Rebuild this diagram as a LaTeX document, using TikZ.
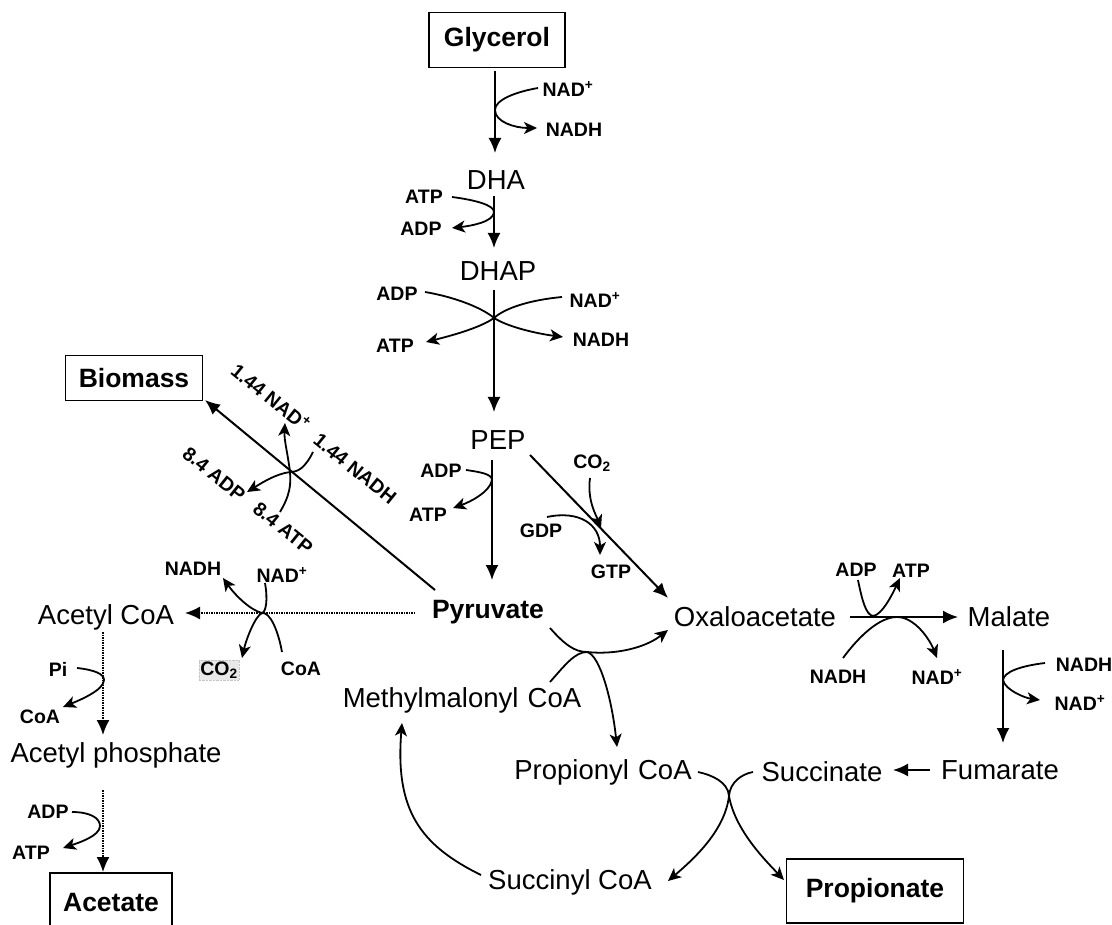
\documentclass[tikz,border=0pt]{standalone}
\usepackage{fontspec}
\setmainfont{Liberation Sans}
\usetikzlibrary{arrows.meta}
\tikzset{
  lbl/.style={font=\fontsize{27.5}{30}\selectfont, inner sep=0pt},
  blbl/.style={font=\bfseries\fontsize{26.5}{30}\selectfont, inner sep=0pt},
  boxed/.style={draw, line width=1.5pt, font=\bfseries\fontsize{26.5}{30}\selectfont, inner sep=0pt},
  sm/.style={font=\bfseries\fontsize{19.5}{21}\selectfont, inner sep=0pt},
  flow/.style={line width=2pt, -{Latex[length=15pt,width=13pt]}},
  dotflow/.style={line width=1.5pt, densely dotted, -{Latex[length=15pt,width=13pt]}},
  sidearrow/.style={line width=1.8pt, -{Stealth[length=13pt,width=12pt,inset=3.5pt]}},
  sideline/.style={line width=1.8pt},
}
\begin{document}
\begin{tikzpicture}[x=1pt,y=-1pt]
\clip (0,0) rectangle (1112,925);
\fill[white] (0,0) rectangle (1112,925);

% ---------- main nodes ----------
\node[boxed, minimum width=136, minimum height=55] (glycerol) at (497,40) {Glycerol};
\node[lbl] (dha) at (496,180) {DHA};
\node[lbl] (dhap) at (498,271) {DHAP};
\node[lbl] (pep) at (498,440) {PEP};
\node[blbl] (pyruvate) at (488,612) {Pyruvate};
\node[boxed, minimum width=137, minimum height=45] (biomass) at (134,378) {Biomass};
\node[lbl] (acetylcoa) at (106,617) {Acetyl CoA};
\node[lbl] (acetylp) at (116,755) {Acetyl phosphate};
\node[boxed, minimum width=122, minimum height=62] (acetate) at (111,904) {\raisebox{4pt}{Acetate}};
\node[lbl] (oxalo) at (755,617) {Oxaloacetate};
\node[lbl] (malate) at (1009,617) {Malate};
\node[lbl] (fumarate) at (1000,770) {Fumarate};
\node[lbl] (succinate) at (822,772) {Succinate};
\node[lbl] (propcoa) at (603,772) {Propionyl\,\,CoA};
\node[lbl] (methyl) at (462,700) {Methylmalonyl\,\,CoA};
\node[lbl] (succcoa) at (570,882) {Succinyl CoA};
\node[boxed, minimum width=177, minimum height=64] (propionate) at (875,891) {\raisebox{6pt}{Propionate}};

% ---------- cofactor labels ----------
\node[sm] (g_nad) at (568,89) {NAD\textsuperscript{+}};
\node[sm] (g_nadh) at (574,130) {NADH};
\node[sm] (d_atp) at (424,197) {ATP};
\node[sm] (d_adp) at (421,229) {ADP};
\node[sm] (p_adp) at (397,294) {ADP};
\node[sm] (p_atp) at (395,346) {ATP};
\node[sm] (p_nad) at (595,300) {NAD\textsuperscript{+}};
\node[sm] (p_nadh) at (601,340) {NADH};
\node[sm] (e_adp) at (441,471) {ADP};
\node[sm] (e_atp) at (428,515) {ATP};
\node[sm] (e_co2) at (592,463) {CO\textsubscript{2}};
\node[sm] (e_gdp) at (541,531) {GDP};
\node[sm] (e_gtp) at (611,572) {GTP};
\node[sm, rotate=-39] (b_nad) at (271,397) {1.44 NAD\textsuperscript{+}};
\node[sm, rotate=-39] (b_nadh) at (355,469) {1.44 NADH};
\node[sm, rotate=-39] (b_adp) at (214,474) {8.4 ADP};
\node[sm, rotate=-39] (b_atp) at (283,528) {8.4 ATP};
\node[sm] (a_nadh) at (193,569) {NADH};
\node[sm] (a_nad) at (282,575) {NAD\textsuperscript{+}};
\node[sm, fill=gray!18, draw=gray!45, densely dotted, inner sep=1.5pt] (a_co2) at (219,670) {CO\textsubscript{2}};
\node[sm] (a_coa) at (301,669) {CoA};
\node[sm] (q_pi) at (58,669) {Pi};
\node[sm] (q_coa) at (40,717) {CoA};
\node[sm] (r_adp) at (48,812) {ADP};
\node[sm] (r_atp) at (31,853) {ATP};
\node[sm] (m_adp) at (856,570) {ADP};
\node[sm] (m_atp) at (911,571) {ATP};
\node[sm] (m_nadh) at (838,677) {NADH};
\node[sm] (m_nad) at (937,677) {NAD\textsuperscript{+}};
\node[sm] (f_nadh) at (1084,665) {NADH};
\node[sm] (f_nad) at (1080,703) {NAD\textsuperscript{+}};

% ---------- junction coordinates ----------
\coordinate (j1) at (495,110);
\coordinate (j2) at (494,212);
\coordinate (j3) at (494,318);
\coordinate (j4) at (492,480);
\coordinate (jb) at (290,472);
\coordinate (ja) at (262,613);
\coordinate (jq) at (104,680);
\coordinate (jr) at (100,826);
\coordinate (jm1) at (873,616);
\coordinate (jm2) at (897,617);
\coordinate (jf) at (1003,680);
\coordinate (jt) at (587,652);
\coordinate (js) at (729,796);

% ---------- main flow arrows ----------
\draw[flow] (495,71) -- (495,153);
\draw[flow] (494,196) -- (494,248);
\draw[flow] (494,290) -- (494,412);
\draw[flow] (492,460) -- (492,580);
\draw[flow] (530,455) -- (668,598);
\draw[flow] (435,590) -- (205,400);
\draw[dotflow] (415,613) -- (185,613);
\draw[dotflow] (103,632) -- (103,735);
\draw[dotflow] (103,790) -- (103,872);
\draw[flow] (850,617) -- (958,617);
\draw[flow] (1003,650) -- (1003,743);
\draw[flow] (930,770) -- (893,770);

% ---------- cofactor curves ----------
\draw[sidearrow] (538,88) .. controls (515,92) and (495,100) .. (j1)
   .. controls (495,122) and (515,128) .. (537,128);
\draw[sidearrow] (452,197) .. controls (475,200) and (494,205) .. (j2)
   .. controls (494,222) and (470,226) .. (452,228);
\draw[sidearrow] (425,292) .. controls (460,298) and (485,310) .. (j3)
   .. controls (480,328) and (450,336) .. (426,342);
\draw[sidearrow] (562,297) .. controls (530,300) and (505,308) .. (j3)
   .. controls (510,328) and (540,334) .. (563,337);
\draw[sidearrow] (466,470) .. controls (480,472) and (492,474) .. (j4)
   .. controls (490,492) and (470,502) .. (453,508);
\draw[sidearrow] (590,478) .. controls (587,500) and (596,515) .. (601,528);
\draw[sidearrow] (547,517) .. controls (580,510) and (600,525) .. (600,555);
\draw[sidearrow] (313,452) .. controls (305,468) and (298,472) .. (jb)
   .. controls (275,474) and (260,484) .. (247,492);
\draw[sidearrow] (280,512) .. controls (290,495) and (291,485) .. (jb)
   .. controls (288,455) and (284,440) .. (285,423);
\draw[sidearrow] (265,583) .. controls (268,600) and (266,612) .. (ja)
   .. controls (250,610) and (235,595) .. (223,578);
\draw[sidearrow] (282,652) .. controls (278,630) and (270,612) .. (ja)
   .. controls (255,616) and (246,640) .. (242,658);
\draw[sidearrow] (77,668) .. controls (95,670) and (104,674) .. (jq)
   .. controls (104,690) and (80,700) .. (63,707);
\draw[sidearrow] (72,812) .. controls (90,812) and (100,818) .. (jr)
   .. controls (100,836) and (78,843) .. (63,848);
\draw[sidearrow] (550,628) .. controls (565,645) and (575,652) .. (jt)
   .. controls (615,655) and (645,648) .. (668,630);
\draw[sidearrow] (550,682) .. controls (565,665) and (575,652) .. (jt)
   .. controls (600,655) and (612,700) .. (617,747);
\draw[sidearrow] (858,580) .. controls (862,600) and (866,615) .. (jm1)
   .. controls (882,615) and (892,595) .. (900,578);
\draw[sidearrow] (843,658) .. controls (860,635) and (880,617) .. (jm2)
   .. controls (915,617) and (930,640) .. (937,658);
\draw[sidearrow] (1045,663) .. controls (1020,666) and (1004,672) .. (jf)
   .. controls (1005,690) and (1025,698) .. (1040,700);
\draw[sideline] (698,772) .. controls (712,775) and (728,782) .. (js);
\draw[sideline] (753,772) .. controls (742,774) and (730,782) .. (js);
\draw[sidearrow] (js) .. controls (725,830) and (695,858) .. (668,881);
\draw[sidearrow] (js) .. controls (735,830) and (765,860) .. (784,880);
\draw[sidearrow] (481,875) .. controls (420,845) and (395,810) .. (402,723);
\end{tikzpicture}
\end{document}
